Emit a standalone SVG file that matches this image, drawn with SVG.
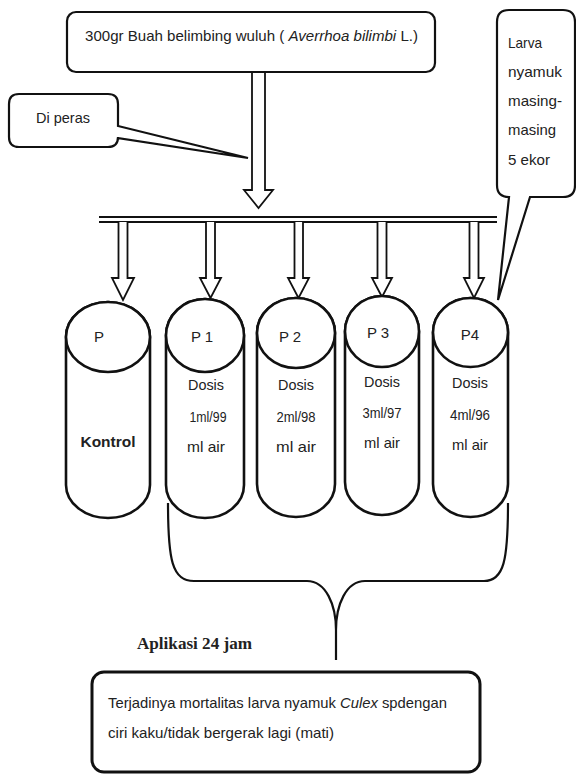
<svg xmlns="http://www.w3.org/2000/svg" width="576" height="776" viewBox="0 0 576 776">
<style>
.t{font-family:"Liberation Sans",Arial,sans-serif;font-size:15px;fill:#222}
.c{text-anchor:middle}
.ln{fill:none;stroke:#111;stroke-width:2.2}
.box{fill:#fff;stroke:#111;stroke-width:2.2}
.cyl{fill:#fff;stroke:#111;stroke-width:2.6}
.arr{fill:#fff;stroke:#111;stroke-width:1.8;stroke-linejoin:miter}
</style>
<rect width="576" height="776" fill="#fff"/>

<g id="connectors">
  <path class="arr" d="M252,72 V190 H244 L258.5,208 L273,190 H265 V72"/>
  <line class="ln" x1="99" y1="217" x2="497" y2="217"/>
  <line class="ln" x1="99" y1="222" x2="497" y2="222"/>
  <path class="arr" d="M118.5,222 V278 H112 L123,300 L134,278 H127.5 V222"/>
  <path class="arr" d="M206,222 V278 H200 L210.5,298 L221,278 H215 V222"/>
  <path class="arr" d="M294.5,222 V278 H288 L298.5,298 L309,278 H303 V222"/>
  <path class="arr" d="M377.5,222 V278 H372 L382,297 L392,278 H386.5 V222"/>
  <path class="arr" d="M469.5,222 V278 H464 L474,298 L484,278 H478.5 V222"/>
  <path class="ln" d="M168,503 C168,560 172,581 194,581 L307,581 C326,581 336,605 336,630 L336,660 M336,630 C336,605 346,581 365,581 L484,581 C504,581 508,560 508,503"/>
</g>

<g id="source">
  <rect class="box" x="67" y="12" width="368" height="60" rx="9"/>
  <text class="t" x="85" y="41" font-size="16" textLength="333" lengthAdjust="spacingAndGlyphs">300gr Buah belimbing wuluh ( <tspan font-style="italic">Averrhoa bilimbi</tspan> L.)</text>
</g>

<g id="diperas">
  <path class="box" d="M19,94 H108 Q118,94 118,104 V126 L248,158 L118,138 V137 Q118,147 108,147 H19 Q9,147 9,137 V104 Q9,94 19,94 Z"/>
  <text class="t" x="36" y="123" textLength="54" lengthAdjust="spacingAndGlyphs">Di peras</text>
</g>

<g id="larva">
  <path class="box" d="M509,10 H563 Q575,10 575,22 V185 Q575,197 563,197 H530 L498,300 L509,197 Q497,197 497,185 V22 Q497,10 509,10 Z"/>
  <text class="t" x="508" y="48" textLength="34" lengthAdjust="spacingAndGlyphs">Larva</text>
  <text class="t" x="508" y="77" textLength="54" lengthAdjust="spacingAndGlyphs">nyamuk</text>
  <text class="t" x="508" y="106" textLength="54" lengthAdjust="spacingAndGlyphs">masing-</text>
  <text class="t" x="508" y="135" textLength="48" lengthAdjust="spacingAndGlyphs">masing</text>
  <text class="t" x="508" y="165" textLength="42" lengthAdjust="spacingAndGlyphs">5 ekor</text>
</g>

<g id="P">
  <path class="cyl" d="M66,337 A42,35 0 0 1 150,337 V485 A42,33 0 0 1 66,485 Z"/>
  <ellipse class="cyl" cx="108" cy="337" rx="42" ry="35"/>
  <text class="t c" x="99" y="342">P</text>
  <text class="t c" x="108" y="447" font-weight="bold" textLength="55" lengthAdjust="spacingAndGlyphs">Kontrol</text>
</g>

<g id="P1">
  <path class="cyl" d="M166,335.5 A39,36.5 0 0 1 244,335.5 V485 A39,33 0 0 1 166,485 Z"/>
  <ellipse class="cyl" cx="205" cy="335.5" rx="39" ry="36.5"/>
  <text class="t c" x="202" y="342">P 1</text>
  <text class="t c" x="206" y="390" textLength="36" lengthAdjust="spacingAndGlyphs">Dosis</text>
  <text class="t c" x="208" y="422" textLength="37" lengthAdjust="spacingAndGlyphs">1ml/99</text>
  <text class="t c" x="206" y="452" textLength="38" lengthAdjust="spacingAndGlyphs">ml air</text>
</g>

<g id="P2">
  <path class="cyl" d="M257,333 A39,35 0 0 1 335,333 V484 A39,33 0 0 1 257,484 Z"/>
  <ellipse class="cyl" cx="296" cy="333" rx="39" ry="35"/>
  <text class="t c" x="290" y="342">P 2</text>
  <text class="t c" x="296" y="390" textLength="36" lengthAdjust="spacingAndGlyphs">Dosis</text>
  <text class="t c" x="296" y="422" textLength="39" lengthAdjust="spacingAndGlyphs">2ml/98</text>
  <text class="t c" x="296" y="452" textLength="40" lengthAdjust="spacingAndGlyphs">ml  air</text>
</g>

<g id="P3">
  <path class="cyl" d="M345,331.5 A37,35.5 0 0 1 419,331.5 V482 A37,33 0 0 1 345,482 Z"/>
  <ellipse class="cyl" cx="382" cy="331.5" rx="37" ry="35.5"/>
  <text class="t c" x="378" y="338">P 3</text>
  <text class="t c" x="382" y="387" textLength="36" lengthAdjust="spacingAndGlyphs">Dosis</text>
  <text class="t c" x="382" y="418" textLength="39" lengthAdjust="spacingAndGlyphs">3ml/97</text>
  <text class="t c" x="382" y="448" textLength="36" lengthAdjust="spacingAndGlyphs">ml air</text>
</g>

<g id="P4">
  <path class="cyl" d="M433,332.5 A37.5,34.5 0 0 1 508,332.5 V484 A37.5,33 0 0 1 433,484 Z"/>
  <ellipse class="cyl" cx="470.5" cy="332.5" rx="37.5" ry="34.5"/>
  <text class="t c" x="470" y="340">P4</text>
  <text class="t c" x="470" y="388" textLength="36" lengthAdjust="spacingAndGlyphs">Dosis</text>
  <text class="t c" x="470" y="420" textLength="40" lengthAdjust="spacingAndGlyphs">4ml/96</text>
  <text class="t c" x="470" y="450" textLength="36" lengthAdjust="spacingAndGlyphs">ml air</text>
</g>

<g id="aplikasi">
  <text x="137" y="649" font-family="Liberation Serif,'Times New Roman',serif" font-weight="bold" font-size="16" fill="#222" textLength="115" lengthAdjust="spacingAndGlyphs">Aplikasi 24 jam</text>
</g>

<g id="result">
  <rect x="92" y="672" width="388" height="100" rx="12" fill="#fff" stroke="#111" stroke-width="3"/>
  <text class="t" x="108" y="708" textLength="339" lengthAdjust="spacingAndGlyphs">Terjadinya mortalitas larva nyamuk <tspan font-style="italic">Culex</tspan> spdengan</text>
  <text class="t" x="108" y="738" textLength="226" lengthAdjust="spacingAndGlyphs">ciri kaku/tidak bergerak lagi (mati)</text>
</g>
</svg>
